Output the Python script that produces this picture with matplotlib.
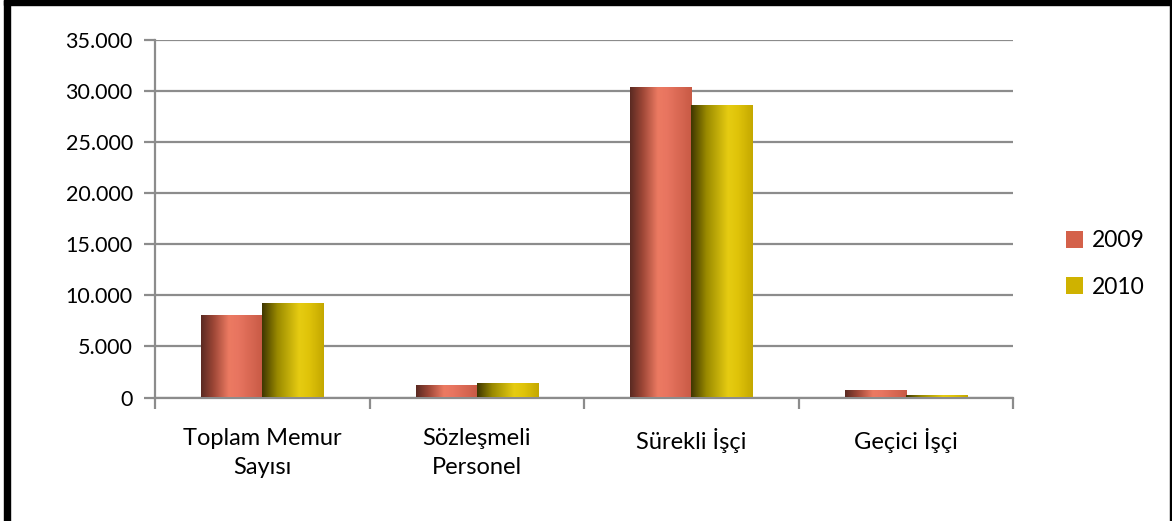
import numpy as np
import matplotlib
matplotlib.use("Agg")
import matplotlib.pyplot as plt
from matplotlib.colors import LinearSegmentedColormap
from matplotlib.patches import Rectangle

plt.rcParams['font.family'] = ['Lato', 'DejaVu Sans']

categories = ["Toplam Memur\nSayısı", "Sözleşmeli\nPersonel", "Sürekli İşçi", "Geçici İşçi"]
years = ["2009", "2010"]
v2009 = [8100, 1200, 30380, 700]
v2010 = [9300, 1430, 28650, 250]
yticks = [0, 5000, 10000, 15000, 20000, 25000, 30000, 35000]
ytick_labels = ["0", "5.000", "10.000", "15.000", "20.000", "25.000", "30.000", "35.000"]

W, H = 1172, 521
fig = plt.figure(figsize=(W / 100, H / 100), dpi=100)
ax = fig.add_axes([155 / W, 1 - 397.5 / H, (1013 - 155) / W, (397.5 - 40) / H])

grads = {
    "2009": LinearSegmentedColormap.from_list("g09", [(0, "#5a2a22"), (0.2, "#9c4636"), (0.45, "#ec7a62"), (0.6, "#e87560"), (1, "#c85a45")]),
    "2010": LinearSegmentedColormap.from_list("g10", [(0, "#3e3600"), (0.25, "#9a8a00"), (0.6, "#e6cc12"), (0.75, "#e0c40a"), (1, "#c4a800")]),
}
legend_cols = {"2009": "#d4614a", "2010": "#cfb200"}

x = np.arange(len(categories)) + 0.5
bw = 0.285
grad = np.linspace(0, 1, 256).reshape(1, -1)
for off, yr, vals in [(-bw / 2, "2009", v2009), (bw / 2, "2010", v2010)]:
    bars = ax.bar(x + off, vals, width=bw, color="none", edgecolor="none", zorder=3)
    for b in bars:
        x0, y0 = b.get_x(), b.get_y()
        im = ax.imshow(grad, cmap=grads[yr], aspect="auto", zorder=3,
                       extent=[x0, x0 + b.get_width(), y0, y0 + b.get_height()])
        im.set_clip_path(b)
    ax.bar([0], [0], color=legend_cols[yr], label=yr)

ax.set_xlim(0, 4)
ax.set_ylim(0, 35000)
ax.set_yticks(yticks)
ax.set_yticklabels(ytick_labels, fontsize=15.5)
ax.set_xticks([0, 1, 2, 3, 4])
ax.set_xticklabels([])
for xi, c in zip(x, categories):
    ax.text(xi, -3000, c, ha="center", va="top", fontsize=17, linespacing=1.45)
ax.grid(axis="y", color="#8c8c8c", linewidth=1.6, zorder=0)
for s in ["top", "right"]:
    ax.spines[s].set_visible(False)
for s in ["left", "bottom"]:
    ax.spines[s].set_color("#8c8c8c")
    ax.spines[s].set_linewidth(1.6)
ax.tick_params(axis="both", color="#8c8c8c", width=1.6, length=8)
ax.tick_params(axis="y", pad=8)
ax.set_aspect("auto")

leg = fig.legend(loc="center left", bbox_to_anchor=(1045 / W, 1 - 264 / H), frameon=False,
                 fontsize=16.5, handlelength=0.75, handleheight=0.75, labelspacing=1.1, handletextpad=0.4)

# black frame
for (fx, fy, fw, fh) in [(4, 0, 6, H), (4, 0, W - 4, 5), (W - 2, 0, 2, H)]:
    fig.patches.append(Rectangle((fx / W, 1 - (fy + fh) / H), fw / W, fh / H,
                                 transform=fig.transFigure, color="black", zorder=10))

fig.savefig("out.png", dpi=100)
